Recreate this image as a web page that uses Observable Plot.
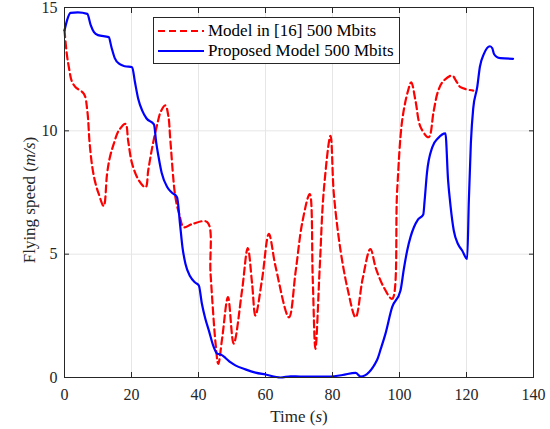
<!DOCTYPE html>
<html>
<head>
<meta charset="utf-8">
<script src="https://cdn.jsdelivr.net/npm/d3@7"></script>
<script src="https://cdn.jsdelivr.net/npm/@observablehq/plot@0.6"></script>
<style>
  html, body { margin: 0; padding: 0; background: #fff; }
  #wrap { position: relative; width: 550px; height: 429px; font-family: "Liberation Serif", serif; }
  #wrap svg text { font-family: "Liberation Serif", serif; }
  #legend { position: absolute; left: 153px; top: 17px; width: 247px; height: 47px; border: 1px solid #262626; background: #fff; box-sizing: border-box; }
  #legend .row { position: absolute; left: 0; height: 20px; display: flex; align-items: center; font-size: 17px; color: #000; white-space: nowrap; }
  #legend svg { margin-left: 4px; margin-right: 4px; }
</style>
</head>
<body>
<div id="wrap"></div>
<script>
// ---- data ----
const seriesNames = ["Model in [16] 500 Mbits", "Proposed Model 500 Mbits"];
const xTicks = [0, 20, 40, 60, 80, 100, 120, 140];
const yTicks = [0, 5, 10, 15];

const proposedT = [0,0.8,1.8,4,6.8,7.8,8.8,10,13.2,14,15,16.5,18,20.2,21,22,23.2,24.5,26.7,27.4,28.1,29,30.7,32,33.6,34.5,35.2,36.1,37.5,39,40.1,41,42,43.1,44.5,45.6,46.6,48,49.5,51,54,57,60,64.5,67.5,70.4,75,79.4,83,86.9,88.4,93.3,94.5,95.8,97.8,100.3,101.3,102.3,103.3,104.3,105.5,107.1,107.5,108.2,109.8,111.5,113.7,114.5,115.2,116.2,117.5,118.7,120.2,120.7,121.3,122,123.2,124,125.2,127,127.7,128.2,129,130.1,133.9];
const proposedV = [14.07,14.5,14.78,14.8,14.74,14.3,14.0,13.88,13.8,13.4,12.95,12.7,12.62,12.58,12.0,11.3,10.82,10.5,10.26,9.5,8.93,8.3,7.71,7.5,7.31,6.2,5.3,4.61,4.1,3.85,3.73,3.0,2.4,1.9,1.25,0.96,0.93,0.8,0.62,0.49,0.33,0.2,0.12,0.0,0.05,0.04,0.04,0.04,0.1,0.19,0.04,0.71,1.2,1.77,2.85,3.53,4.4,5.15,5.7,6.09,6.4,6.61,7.17,8.3,9.34,9.7,9.9,8.0,7.0,5.96,5.4,5.15,4.81,7.17,9.5,10.9,11.77,12.6,13.12,13.43,13.35,13.12,13.0,12.95,12.92];

const modelT = [0,0.7,1.3,2.2,3.3,5.8,6.8,7.5,8.3,9.2,10.2,11.7,12.7,13.5,14.7,16.2,18.2,19,20.2,22.2,24.2,25,26.2,27.7,28.8,30.1,31,31.6,33.1,34.3,35.6,38.1,42.6,43.6,45.1,45.9,47.1,48.8,50.5,53,54.7,56,57,59,61,63,67,69,71,73.2,74.1,74.9,76.2,77.4,79.4,80.4,82.4,84.5,86.9,89,91.3,93,95.3,97.8,99.3,100.8,102.5,103.5,104.8,106.3,108.7,110.2,111.5,113,115.7,117,118.2,122];
const modelV = [14.07,13.1,12.58,12.0,11.77,11.5,10.82,9.5,8.53,7.9,7.45,6.95,8.25,8.9,9.47,10.01,10.28,9.6,8.66,7.99,7.71,8.4,9.34,10.28,10.8,11.03,10.6,9.61,7.31,6.6,6.09,6.22,6.3,4.2,1.37,0.55,1.63,3.26,1.37,3.53,5.25,3.8,2.51,4.0,5.82,4.5,2.44,4.3,6.3,7.44,4.0,1.16,4.5,7.58,9.8,7.44,5.15,3.6,2.44,4.0,5.21,4.4,3.66,3.19,7.58,10.42,11.6,11.97,11.2,10.15,9.74,10.8,11.6,12.0,12.24,12.0,11.77,11.63];

const proposed = proposedT.map((t, i) => ({t, v: proposedV[i]}));
const model = modelT.map((t, i) => ({t, v: modelV[i]}));

const ink = "#262626";
const font = "Liberation Serif, serif";
const chart = Plot.plot({
  width: 550,
  height: 429,
  marginTop: 7,
  marginBottom: 52,
  marginLeft: 64,
  marginRight: 17,
  style: {fontFamily: font, fontSize: "16px", background: "#fff", color: ink, overflow: "visible"},
  x: {domain: [0, 140], label: null},
  y: {domain: [0, 15], label: null},
  marks: [
    Plot.gridX(xTicks, {stroke: "#e6e6e6", strokeOpacity: 1, strokeWidth: 1}),
    Plot.gridY(yTicks, {stroke: "#e6e6e6", strokeOpacity: 1, strokeWidth: 1}),
    Plot.line(model, {x: "t", y: "v", stroke: "#ff0000", strokeWidth: 2.2, strokeDasharray: "7,4", curve: "catmull-rom"}),
    Plot.line(proposed, {x: "t", y: "v", stroke: "#0000ff", strokeWidth: 2.2, curve: "monotone-x"}),
    Plot.frame({stroke: ink, strokeWidth: 1}),
    Plot.axisX(xTicks, {anchor: "bottom", tickSize: 0, tickPadding: 11, fill: ink, fontSize: 16, fontFamily: font, label: null}),
    Plot.axisY(yTicks, {anchor: "left", tickSize: 0, tickPadding: 7, fill: ink, fontSize: 16, fontFamily: font, label: null}),
    Plot.axisX(xTicks, {anchor: "bottom", tickSize: -5, tickFormat: () => "", stroke: ink, label: null}),
    Plot.axisX(xTicks, {anchor: "top", tickSize: -5, tickFormat: () => "", stroke: ink, label: null}),
    Plot.axisY(yTicks, {anchor: "left", tickSize: -5, tickFormat: () => "", stroke: ink, label: null}),
    Plot.axisY(yTicks, {anchor: "right", tickSize: -5, tickFormat: () => "", stroke: ink, label: null})
  ]
});

const wrap = document.getElementById("wrap");
wrap.appendChild(chart);

const svg = d3.select(chart);
svg.attr("font-family", font);
svg.selectAll("text").style("font-family", font);

// axis titles with italic units
const xt = svg.append("text")
  .attr("x", 299).attr("y", 422)
  .attr("text-anchor", "middle")
  .attr("fill", ink)
  .style("font-family", font).style("font-size", "17px");
xt.append("tspan").text("Time (");
xt.append("tspan").attr("font-style", "italic").text("s");
xt.append("tspan").text(")");

const yt = svg.append("text")
  .attr("transform", "translate(35,200) rotate(-90)")
  .attr("text-anchor", "middle")
  .attr("fill", ink)
  .style("font-family", font).style("font-size", "17px");
yt.append("tspan").text("Flying speed (");
yt.append("tspan").attr("font-style", "italic").text("m/s");
yt.append("tspan").text(")");

// legend (inside axes, top)
const leg = document.createElement("div");
leg.id = "legend";
const styles = [
  {stroke: "#ff0000", dash: "7,4"},
  {stroke: "#0000ff", dash: null}
];
seriesNames.forEach((name, i) => {
  const row = document.createElement("div");
  row.className = "row";
  row.style.top = (3 + i * 20) + "px";
  const s = d3.create("svg").attr("width", 46).attr("height", 10);
  s.append("line").attr("x1", 0).attr("x2", 46).attr("y1", 5).attr("y2", 5)
    .attr("stroke", styles[i].stroke).attr("stroke-width", 2.2)
    .attr("stroke-dasharray", styles[i].dash);
  row.appendChild(s.node());
  const span = document.createElement("span");
  span.textContent = name;
  row.appendChild(span);
  leg.appendChild(row);
});
wrap.appendChild(leg);
</script>
</body>
</html>
